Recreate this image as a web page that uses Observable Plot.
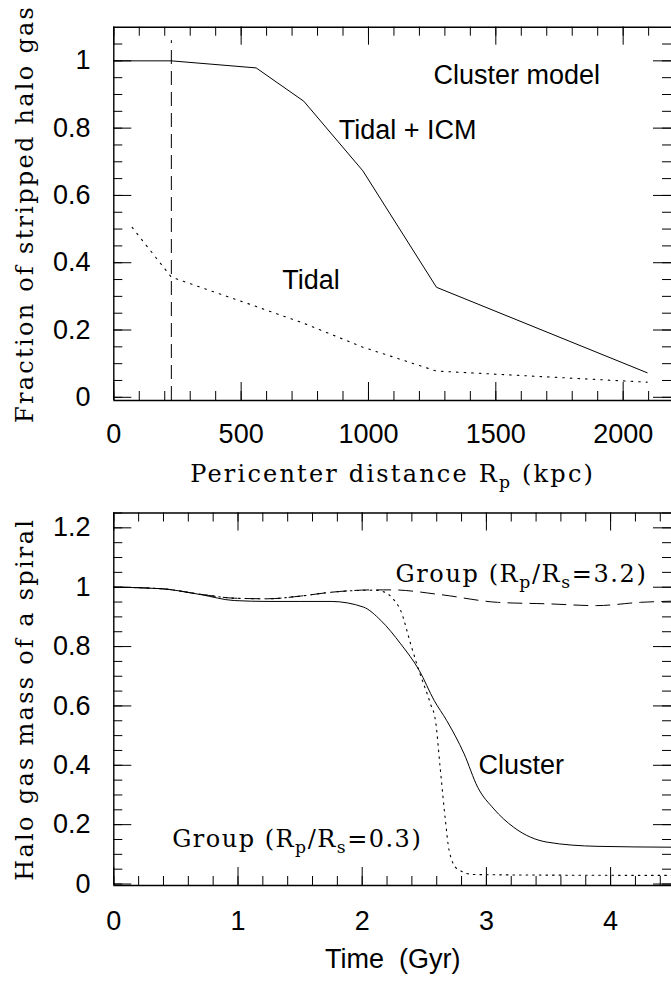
<!DOCTYPE html>
<html><head><meta charset="utf-8">
<script src="https://cdn.jsdelivr.net/npm/d3@7"></script>
<script src="https://cdn.jsdelivr.net/npm/@observablehq/plot@0.6"></script>
<style>
body{margin:0;background:#fff;}
#chart svg{display:block;}
</style></head><body><div id="chart"></div>
<script>
// ---------- Top panel data ----------
const rpTidalIcm   = [0, 226, 559, 746, 978, 1267, 2094];
const fracTidalIcm = [1.0, 1.0, 0.979, 0.88, 0.673, 0.327, 0.073];
const rpTidal      = [72, 226, 559, 746, 978, 1267, 2094];
const fracTidal    = [0.505, 0.357, 0.27, 0.22, 0.149, 0.078, 0.045];
const rpMarker = 226, markerTop = 1.06;
const rpTickLabels   = [0, 500, 1000, 1500, 2000];
const fracTickLabels = [0, 0.2, 0.4, 0.6, 0.8, 1];
const topLabelText = ["Cluster model", "Tidal + ICM", "Tidal"];
const topLabelX    = [1255, 883, 661];
const topLabelY    = [0.932, 0.768, 0.322];

// ---------- Bottom panel data ----------
const tCluster = [0, 0.38, 0.7, 0.97, 1.25, 1.5, 1.75, 2.01, 2.15, 2.31, 2.46, 2.58, 2.68, 2.82, 2.93, 3.06, 3.22, 3.49, 3.89, 4.5];
const mCluster = [1.0, 0.995, 0.975, 0.955, 0.952, 0.952, 0.952, 0.933, 0.888, 0.809, 0.719, 0.618, 0.551, 0.439, 0.326, 0.253, 0.191, 0.141, 0.127, 0.124];
const tGroupFar = [0, 0.38, 0.7, 0.97, 1.235, 1.5, 1.75, 2.09, 2.24, 2.63, 3.09, 3.49, 3.89, 4.24, 4.5];
const mGroupFar = [1.0, 0.995, 0.976, 0.963, 0.961, 0.97, 0.983, 0.991, 0.991, 0.975, 0.949, 0.944, 0.938, 0.949, 0.953];
const tGroupNear = [0, 0.38, 0.7, 0.97, 1.235, 1.5, 1.75, 2.09, 2.17, 2.25, 2.31, 2.39, 2.456, 2.55, 2.59, 2.63, 2.67, 2.70, 2.765, 2.9, 3.5, 4.5];
const mGroupNear = [1.0, 0.995, 0.976, 0.963, 0.961, 0.97, 0.983, 0.99, 0.985, 0.96, 0.921, 0.809, 0.72, 0.607, 0.551, 0.382, 0.214, 0.113, 0.051, 0.032, 0.03, 0.029];
const timeTickLabels = [0, 1, 2, 3, 4];
const massTickLabels = [0, 0.2, 0.4, 0.6, 0.8, 1, 1.2];
const botLabelText = ["Group (R_p/R_s=3.2)", "Group (R_p/R_s=0.3)", "Cluster"];
const botLabelX    = [2.268, 0.47, 2.936];
const botLabelY    = [1.019, 0.126, 0.369];

// ---------- common styling ----------
const SANS = "Liberation Sans, Arial, Helvetica, sans-serif";
const SERIF = "DejaVu Serif, Liberation Serif, serif";
const SERIF_SIZE = 24;
const W = 671;
const textLengths = {
  "Pericenter distance R_p (kpc)": 405,
  "Fraction of stripped halo gas": 418,
  "Halo gas mass of a spiral": 363,
  "Group (R_p/R_s=3.2)": 252,
  "Group (R_p/R_s=0.3)": 250
};

function frameMarks(opt) {
  const {fw, fh, xMinor, xMajor, yMinor, yMajor, yTop, yBot, x0} = opt;
  const m = [];
  m.push(Plot.ruleY([yTop, yBot], {stroke: "black", strokeWidth: 1.4}));
  m.push(Plot.ruleX([x0], {stroke: "black", strokeWidth: 1.4}));
  m.push(Plot.tickX(xMinor, {x: d => d, insetTop: fh - 9, stroke: "black", strokeWidth: 1}));
  m.push(Plot.tickX(xMajor, {x: d => d, insetTop: fh - 18, stroke: "black", strokeWidth: 1}));
  m.push(Plot.tickX(xMinor, {x: d => d, insetBottom: fh - 9, stroke: "black", strokeWidth: 1}));
  m.push(Plot.tickX(xMajor, {x: d => d, insetBottom: fh - 18, stroke: "black", strokeWidth: 1}));
  m.push(Plot.tickY(yMinor, {y: d => d, insetRight: fw - 9, stroke: "black", strokeWidth: 1}));
  m.push(Plot.tickY(yMajor, {y: d => d, insetRight: fw - 18, stroke: "black", strokeWidth: 1}));
  m.push(Plot.tickY(yMinor, {y: d => d, insetLeft: fw - 9, stroke: "black", strokeWidth: 1}));
  m.push(Plot.tickY(yMajor, {y: d => d, insetLeft: fw - 18, stroke: "black", strokeWidth: 1}));
  return m;
}

// subscripts + spacing adjustment (svg must be in the DOM to measure)
function postProcess(svg) {
  svg.querySelectorAll("g.subtext text").forEach(t => {
    const s = t.textContent;
    const fs = SERIF_SIZE;
    if (s.includes("_")) {
      while (t.firstChild) t.removeChild(t.firstChild);
      const parts = s.split(/_(\w)/);
      const shift = fs * 0.28;
      parts.forEach((p, i) => {
        const ts = document.createElementNS("http://www.w3.org/2000/svg", "tspan");
        ts.textContent = p;
        if (i % 2 === 1) {
          ts.setAttribute("font-size", (fs * 0.72).toFixed(1));
          ts.setAttribute("dy", shift.toFixed(1));
        } else if (i > 0) {
          ts.setAttribute("dy", (-shift).toFixed(1));
        }
        t.appendChild(ts);
      });
    }
    const L = textLengths[s];
    if (L) {
      t.style.letterSpacing = "0px";
      const natural = t.getComputedTextLength();
      const n = t.textContent.length;
      const ls = (L - natural) / n;
      t.style.letterSpacing = ls.toFixed(2) + "px";
    }
  });
}

const chart = document.getElementById("chart");

// ================= TOP PANEL =================
{
  const H = 492, mL = 113.3, mT = 26.7, mB = 92, mR = 0;
  const fw = W - mL - mR, fh = H - mT - mB;
  const tidalIcm = rpTidalIcm.map((x, i) => ({x, y: fracTidalIcm[i]}));
  const tidal = rpTidal.map((x, i) => ({x, y: fracTidal[i]}));
  const yBot = -0.0095, yTop = 1.1;
  const svg = Plot.plot({
    width: W, height: H,
    marginLeft: mL, marginTop: mT, marginBottom: mB, marginRight: mR,
    x: {domain: [0, 2200], range: [113.3, 673.6], axis: null},
    y: {domain: [yBot, yTop], range: [400, 26.7], axis: null},
    style: {background: "white"},
    marks: [
      ...frameMarks({fw, fh,
        xMinor: d3.range(0, 2201, 100), xMajor: rpTickLabels,
        yMinor: d3.range(0, 1.1, 0.05), yMajor: fracTickLabels,
        yTop, yBot, x0: 0}),
      Plot.ruleX([rpMarker], {y1: yBot, y2: markerTop, stroke: "black", strokeWidth: 1, strokeDasharray: "14,7"}),
      Plot.line(tidalIcm, {x: "x", y: "y", stroke: "black", strokeWidth: 1}),
      Plot.line(tidal, {x: "x", y: "y", stroke: "black", strokeWidth: 1.1, strokeDasharray: "1.6,6"}),
      Plot.text(rpTickLabels, {x: d => d, frameAnchor: "bottom", lineAnchor: "top", dy: 23.3, text: d => String(d), fontSize: 27, fontFamily: SANS, fill: "black"}),
      Plot.text(fracTickLabels, {y: d => d, frameAnchor: "left", textAnchor: "end", lineAnchor: "middle", dx: -23.3, text: d => String(d), fontSize: 27, fontFamily: SANS, fill: "black"}),
      Plot.text(topLabelText, {x: (d, i) => topLabelX[i], y: (d, i) => topLabelY[i], text: d => d, textAnchor: "start", lineAnchor: "bottom", fontSize: 27, fontFamily: SANS, fill: "black"}),
      Plot.text(["Pericenter distance R_p (kpc)"], {frameAnchor: "bottom", textAnchor: "middle", lineAnchor: "bottom", dy: 81, text: d => d, fontSize: SERIF_SIZE, fontFamily: SERIF, fill: "black", className: "subtext"}),
      Plot.text(["Fraction of stripped halo gas"], {frameAnchor: "left", textAnchor: "middle", rotate: -90, lineAnchor: "bottom", dx: -81.3, text: d => d, fontSize: SERIF_SIZE, fontFamily: SERIF, fill: "black", className: "subtext"})
    ]
  });
  chart.appendChild(svg);
  postProcess(svg);
}

// ================= BOTTOM PANEL =================
{
  const H = 492, mL = 113.3, mT = 20.5, mB = 99, mR = 0;
  const fw = W - mL - mR, fh = H - mT - mB;
  const toPts = (xs, ys) => xs.map((x, i) => ({x, y: ys[i]}));
  const yBot = -0.005, yTop = 1.25;
  const svg = Plot.plot({
    width: W, height: H,
    marginLeft: mL, marginTop: mT, marginBottom: mB, marginRight: mR,
    x: {domain: [0, 4.5], range: [113.3, 672.2], axis: null},
    y: {domain: [yBot, yTop], range: [393, 20.5], axis: null},
    style: {background: "white"},
    marks: [
      ...frameMarks({fw, fh,
        xMinor: d3.range(0, 4.51, 0.2), xMajor: timeTickLabels,
        yMinor: d3.range(0, 1.26, 0.05), yMajor: massTickLabels,
        yTop, yBot, x0: 0}),
      Plot.line(toPts(tGroupFar, mGroupFar), {x: "x", y: "y", curve: "monotone-x", stroke: "black", strokeWidth: 1, strokeDasharray: "14,8"}),
      Plot.line(toPts(tGroupNear, mGroupNear), {x: "x", y: "y", curve: "monotone-x", stroke: "black", strokeWidth: 1.1, strokeDasharray: "1.6,5"}),
      Plot.line(toPts(tCluster, mCluster), {x: "x", y: "y", curve: "monotone-x", stroke: "black", strokeWidth: 1}),
      Plot.text(timeTickLabels, {x: d => d, frameAnchor: "bottom", lineAnchor: "top", dy: 25.3, text: d => String(d), fontSize: 27, fontFamily: SANS, fill: "black"}),
      Plot.text(massTickLabels, {y: d => d, frameAnchor: "left", textAnchor: "end", lineAnchor: "middle", dx: -23.3, text: d => String(d), fontSize: 27, fontFamily: SANS, fill: "black"}),
      Plot.text(botLabelText.slice(2), {x: (d, i) => botLabelX[i + 2], y: (d, i) => botLabelY[i + 2], text: d => d, textAnchor: "start", lineAnchor: "bottom", fontSize: 27, fontFamily: SANS, fill: "black"}),
      Plot.text(botLabelText.slice(0, 2), {x: (d, i) => botLabelX[i], y: (d, i) => botLabelY[i], text: d => d, textAnchor: "start", lineAnchor: "bottom", fontSize: SERIF_SIZE, fontFamily: SERIF, fill: "black", className: "subtext"}),
      Plot.text(["Time\u00a0 (Gyr)"], {frameAnchor: "bottom", textAnchor: "middle", lineAnchor: "bottom", dy: 82, text: d => d, fontSize: 27, fontFamily: SANS, fill: "black"}),
      Plot.text(["Halo gas mass of a spiral"], {frameAnchor: "left", textAnchor: "middle", rotate: -90, lineAnchor: "bottom", dx: -81.3, text: d => d, fontSize: SERIF_SIZE, fontFamily: SERIF, fill: "black", className: "subtext"})
    ]
  });
  chart.appendChild(svg);
  postProcess(svg);
}
</script>
</body></html>
